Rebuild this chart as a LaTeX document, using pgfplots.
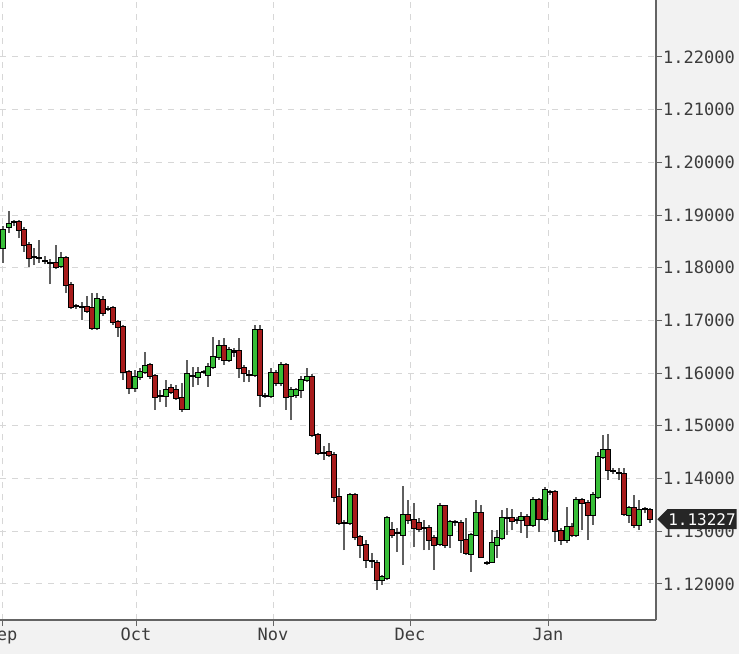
\documentclass[border=0pt]{standalone}
\usepackage{pgfplots}
\pgfplotsset{compat=1.18}
\usepackage{pgfplotstable}
\usepackage{fontspec}
\newfontfamily\monofont{DejaVu Sans Mono}
\usetikzlibrary{shapes.symbols}

\definecolor{upg}{RGB}{56,190,56}
\definecolor{dnr}{RGB}{168,28,28}
\definecolor{wick}{RGB}{95,95,95}
\definecolor{gridc}{RGB}{215,215,215}
\definecolor{axisc}{RGB}{100,100,100}
\definecolor{bgc}{RGB}{242,242,242}
\definecolor{txt}{RGB}{60,60,60}

% up candles: x O H L C
\pgfplotstableread{
x O H L C
3 1.1837 1.1879 1.1809 1.1872
9 1.1877 1.1908 1.1866 1.1883
61 1.1803 1.1830 1.1799 1.1818
97 1.1686 1.1752 1.1682 1.1741
135 1.1572 1.1606 1.1564 1.1593
140 1.1593 1.1610 1.1587 1.1602
145 1.1602 1.1640 1.1598 1.1614
166 1.1557 1.1587 1.1536 1.1568
187 1.1532 1.1625 1.1530 1.1598
198 1.1593 1.1612 1.1577 1.1600
208 1.1596 1.1620 1.1574 1.1612
213 1.1612 1.1669 1.1608 1.1631
219 1.1631 1.1663 1.1625 1.1651
229 1.1625 1.1650 1.1621 1.1644
255 1.1596 1.1691 1.1593 1.1682
271 1.1557 1.1610 1.1553 1.1600
281 1.1581 1.1621 1.1575 1.1616
291 1.1557 1.1574 1.1511 1.1568
296 1.1559 1.1572 1.1553 1.1568
301 1.1568 1.1595 1.1553 1.1587
307 1.1587 1.1610 1.1583 1.1593
350 1.1316 1.1373 1.1312 1.1369
382 1.1207 1.1217 1.1198 1.1213
387 1.1211 1.1329 1.1207 1.1325
403 1.1293 1.1386 1.1236 1.1331
440 1.1276 1.1354 1.1272 1.1348
450 1.1293 1.1321 1.1268 1.1317
471 1.1257 1.1297 1.1223 1.1293
476 1.1293 1.1359 1.1291 1.1335
492 1.1242 1.1302 1.1240 1.1278
497 1.1274 1.1302 1.1249 1.1287
502 1.1287 1.1340 1.1283 1.1325
521 1.1321 1.1337 1.1297 1.1327
533 1.1312 1.1365 1.1308 1.1359
545 1.1323 1.1384 1.1319 1.1378
567 1.1283 1.1346 1.1278 1.1308
576 1.1293 1.1365 1.1289 1.1359
593 1.1331 1.1374 1.1312 1.1369
598 1.1365 1.1450 1.1361 1.1441
603 1.1441 1.1483 1.1437 1.1454
629 1.1331 1.1348 1.1316 1.1344
639 1.1312 1.1359 1.1302 1.1340
}\up

% down and doji candles: x O H L C
\pgfplotstableread{
x O H L C
14 1.1887 1.1891 1.1879 1.1887
19 1.1887 1.1891 1.1856 1.1872
24 1.1872 1.1877 1.1830 1.1843
29 1.1843 1.1849 1.1801 1.1818
34 1.1820 1.1837 1.1805 1.1820
39 1.1818 1.1853 1.1809 1.1818
45 1.1813 1.1822 1.1807 1.1813
50 1.1809 1.1816 1.1769 1.1809
56 1.1809 1.1843 1.1797 1.1801
66 1.1818 1.1822 1.1752 1.1767
71 1.1767 1.1773 1.1722 1.1725
76 1.1727 1.1731 1.1722 1.1727
82 1.1725 1.1735 1.1701 1.1725
87 1.1725 1.1746 1.1714 1.1718
92 1.1724 1.1752 1.1682 1.1686
103 1.1739 1.1746 1.1708 1.1714
108 1.1722 1.1727 1.1718 1.1722
113 1.1724 1.1727 1.1691 1.1697
118 1.1697 1.1701 1.1669 1.1687
123 1.1687 1.1691 1.1587 1.1602
129 1.1602 1.1606 1.1560 1.1572
150 1.1616 1.1620 1.1589 1.1595
155 1.1595 1.1598 1.1530 1.1555
160 1.1557 1.1568 1.1545 1.1557
171 1.1572 1.1579 1.1560 1.1564
176 1.1568 1.1577 1.1549 1.1553
182 1.1553 1.1581 1.1526 1.1532
193 1.1595 1.1612 1.1574 1.1595
204 1.1602 1.1606 1.1598 1.1602
224 1.1651 1.1667 1.1616 1.1625
234 1.1641 1.1648 1.1631 1.1641
239 1.1642 1.1667 1.1591 1.1610
244 1.1610 1.1616 1.1583 1.1600
249 1.1596 1.1606 1.1583 1.1596
260 1.1682 1.1691 1.1536 1.1559
265 1.1557 1.1562 1.1553 1.1557
276 1.1600 1.1606 1.1575 1.1581
286 1.1616 1.1620 1.1530 1.1555
312 1.1593 1.1598 1.1479 1.1483
318 1.1483 1.1486 1.1445 1.1448
324 1.1448 1.1462 1.1436 1.1448
329 1.1450 1.1467 1.1441 1.1445
334 1.1445 1.1450 1.1356 1.1365
339 1.1365 1.1382 1.1312 1.1316
344 1.1316 1.1321 1.1264 1.1316
355 1.1369 1.1373 1.1283 1.1289
360 1.1289 1.1293 1.1249 1.1274
366 1.1274 1.1283 1.1230 1.1245
372 1.1243 1.1259 1.1230 1.1243
377 1.1240 1.1245 1.1188 1.1207
392 1.1302 1.1317 1.1287 1.1293
397 1.1297 1.1306 1.1261 1.1297
408 1.1331 1.1359 1.1314 1.1321
414 1.1321 1.1354 1.1270 1.1306
419 1.1316 1.1325 1.1298 1.1304
424 1.1306 1.1321 1.1264 1.1306
429 1.1306 1.1312 1.1264 1.1283
434 1.1287 1.1293 1.1227 1.1274
445 1.1348 1.1350 1.1268 1.1274
455 1.1317 1.1321 1.1310 1.1317
461 1.1316 1.1321 1.1259 1.1283
466 1.1283 1.1325 1.1255 1.1259
481 1.1335 1.1350 1.1249 1.1251
487 1.1240 1.1243 1.1236 1.1240
507 1.1325 1.1344 1.1293 1.1325
512 1.1325 1.1342 1.1302 1.1319
517 1.1321 1.1327 1.1314 1.1321
527 1.1327 1.1333 1.1287 1.1312
539 1.1359 1.1363 1.1298 1.1323
550 1.1374 1.1378 1.1369 1.1374
555 1.1374 1.1378 1.1280 1.1300
561 1.1300 1.1306 1.1274 1.1283
572 1.1308 1.1316 1.1289 1.1293
582 1.1359 1.1363 1.1302 1.1354
588 1.1354 1.1359 1.1283 1.1331
608 1.1454 1.1485 1.1397 1.1416
613 1.1414 1.1420 1.1408 1.1414
619 1.1410 1.1420 1.1397 1.1410
624 1.1409 1.1420 1.1329 1.1333
634 1.1344 1.1369 1.1306 1.1312
645 1.1342 1.1346 1.1334 1.1342
650 1.1340 1.1344 1.1316 1.1323
}\down

\pgfplotsset{
  candle/.style={draw=none, no markers, mark size=0pt, forget plot,
    error bars/.cd, y dir=plus, y explicit, error mark=none},
}

\begin{document}
\begin{tikzpicture}[x=1pt,y=1pt]
\fill[bgc] (0,-34) rectangle (739,620);
\begin{axis}[
  at={(0,0)}, anchor=south west,
  scale only axis, width=656pt, height=620pt,
  xmin=0, xmax=656, ymin=1.11315, ymax=1.2308,
  axis x line*=bottom, axis y line*=right,
  axis line style={axisc, line width=1.4pt},
  axis background/.style={fill=white},
  xtick={2,136,273,410,548}, xticklabels={Sep,Oct,Nov,Dec,Jan},
  ytick={1.12,1.13,1.14,1.15,1.16,1.17,1.18,1.19,1.20,1.21,1.22},
  yticklabels={1.12000,1.13000,1.14000,1.15000,1.16000,1.17000,1.18000,1.19000,1.20000,1.21000,1.22000},
  scaled y ticks=false,
  tick align=outside, major tick length=6pt,
  tick style={axisc, line width=1pt},
  grid=major, major grid style={gridc, line width=0.9pt, dash pattern=on 6pt off 6pt},
  ticklabel style={font=\monofont\fontsize{17}{20}\selectfont, text=txt},
  yticklabel style={anchor=west, inner sep=1pt},
  xticklabel style={anchor=north, inner sep=2pt},
  clip=true,
]
% wicks
\addplot[candle, error bar style={draw=wick, line width=1.3pt}]
  table[x=x, y=L, y error plus expr=\thisrow{H}-\thisrow{L}] {\up};
\addplot[candle, error bar style={draw=wick, line width=1.3pt}]
  table[x=x, y=L, y error plus expr=\thisrow{H}-\thisrow{L}] {\down};
% bodies: black outline
\addplot[candle, error bar style={draw=black, line width=5.4pt}]
  table[x=x, y expr=\thisrow{O}-0.00019, y error plus expr=\thisrow{C}-\thisrow{O}+0.00038] {\up};
\addplot[candle, error bar style={draw=black, line width=5.4pt}]
  table[x=x, y expr=\thisrow{C}-0.00019, y error plus expr=\thisrow{O}-\thisrow{C}+0.00038] {\down};
% bodies: fill
\addplot[candle, error bar style={draw=upg, line width=3.4pt}]
  table[x=x, y=O, y error plus expr=\thisrow{C}-\thisrow{O}] {\up};
\addplot[candle, error bar style={draw=dnr, line width=3.4pt}]
  table[x=x, y=C, y error plus expr=\thisrow{O}-\thisrow{C}] {\down};
\coordinate (lp) at (axis cs:656,1.13227);
\end{axis}
\node[signal, signal to=west, signal pointer angle=90, fill=black!85, text=white,
  font=\monofont\fontsize{16}{19}\selectfont, inner xsep=1pt, inner ysep=1pt,
  minimum height=20pt, anchor=west] at ([xshift=1pt]lp) {1.13227};
\pgfresetboundingbox
\useasboundingbox (0,-34) rectangle (739,620);
\end{tikzpicture}
\end{document}
